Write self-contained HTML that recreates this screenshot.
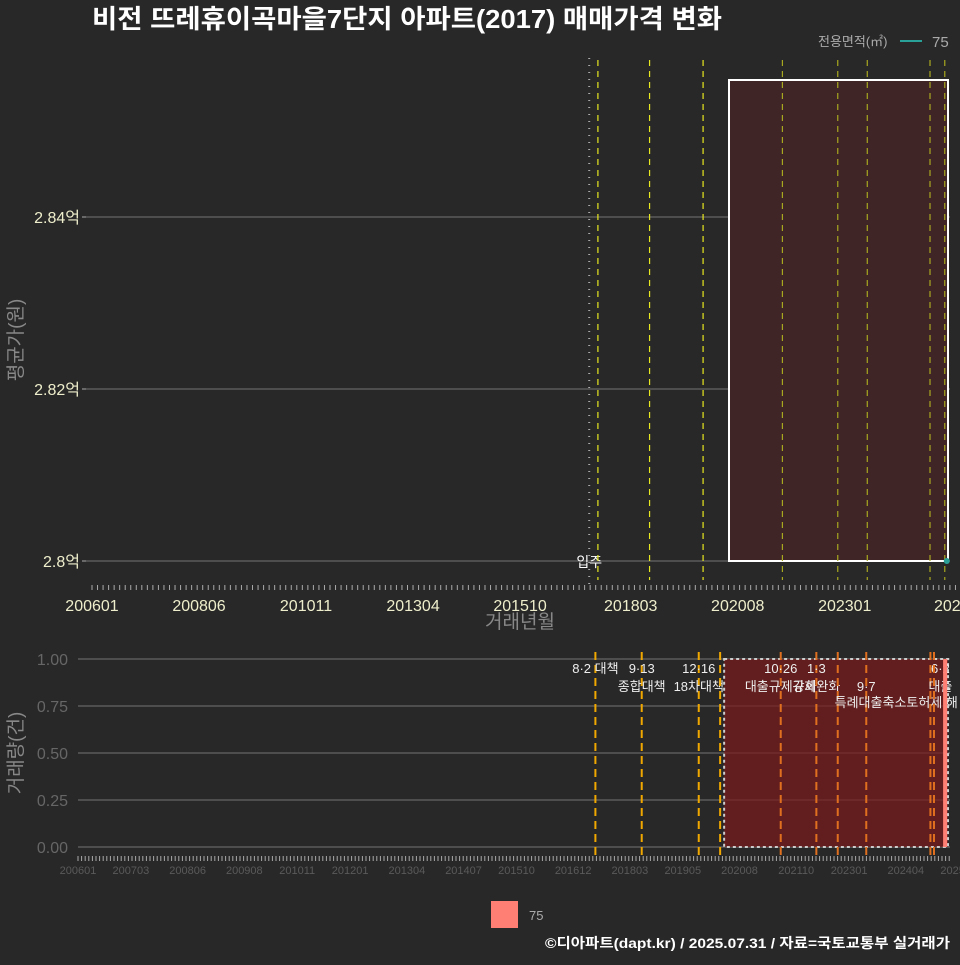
<!DOCTYPE html>
<html><head><meta charset="utf-8"><style>
body{margin:0;background:#282828;}
svg text{font-family:"Liberation Sans","Noto Sans CJK KR",sans-serif;}
</style></head><body>
<svg width="960" height="960" xmlns="http://www.w3.org/2000/svg">
<rect width="960" height="960" fill="#282828"/>
<text x="92" y="28" font-size="26" font-weight="bold" fill="#ffffff" textLength="630" lengthAdjust="spacingAndGlyphs">비전 뜨레휴이곡마을7단지 아파트(2017) 매매가격 변화</text>
<text x="818" y="46" font-size="13" fill="#aaaaaa">전용면적(㎡)</text>
<line x1="900" y1="41" x2="922" y2="41" stroke="#2aa198" stroke-width="2"/>
<text x="932" y="47" font-size="15" fill="#aaaaaa">75</text>
<g id="top"></g>
<g id="bot"></g>
<text transform="translate(22,340) rotate(-90)" text-anchor="middle" font-size="19" fill="#888">평균가(원)</text>
<text x="520" y="628" text-anchor="middle" font-size="19" fill="#888">거래년월</text>
<text transform="translate(22,753) rotate(-90)" text-anchor="middle" font-size="19" fill="#888">거래량(건)</text>
<rect x="491" y="901" width="27" height="27" fill="#ff7f74"/>
<text x="529" y="920" font-size="13" fill="#aaa">75</text>
<text x="950" y="948" text-anchor="end" font-size="14" font-weight="bold" fill="#fff" textLength="405" lengthAdjust="spacingAndGlyphs">©디아파트(dapt.kr) / 2025.07.31 / 자료=국토교통부 실거래가</text>
</svg>
<script>
const priceTicks=[2.80,2.82,2.84];
const priceTickLabels=["2.8억","2.82억","2.84억"];
const topXLabels=["200601","200806","201011","201304","201510","201803","202008","202301","2025"];
const topXMonths=[0,29,58,87,116,146,175,204,233];
const botXLabels=["200601","200703","200806","200908","201011","201201","201304","201407","201510","201612","201803","201905","202008","202110","202301","202404","202506"];
const botXMonths=[0,14,29,44,58,72,87,102,116,131,146,160,175,190,204,219,233];
const volTicks=[0,0.25,0.5,0.75,1.0];
const volTickLabels=["0.00","0.25","0.50","0.75","1.00"];
const topEventMonths=[139,153,167.5,189,204,212,229,233];
const eventMonths=[139,152,168,174,191,201,207,215,233,234];
const eventTop=["8·2 대책","9·13","12·16","","10·26","1·3","","","6·2",""];
const eventBottom=["","종합대책","18차대책","","대출규제강화","규제완화","","9·7","대출",""];
const eventThird=["","","","","","","","특례대출축소토허제 해","",""];
const priceMonths=[233];
const priceValues=[2.80];
const volMonths=[236];
const volValues=[1];
const moveInMonth=138;
const NS="http://www.w3.org/2000/svg";
function mk(p,tag,a,name,txt){const e=document.createElementNS(NS,tag);for(const k in a)e.setAttribute(k,a[k]);


if(txt!==undefined)e.textContent=txt;p.appendChild(e);return e;}
const tx=m=>85+m*3.69, ty=v=>561-(v-2.80)*8600;
const bx=m=>100+m*3.564, by=v=>847-v*188;
const T=document.getElementById('top'),B=document.getElementById('bot');
priceTicks.forEach((v,i)=>{mk(T,'line',{x1:86,x2:950,y1:ty(v),y2:ty(v),stroke:'#666','stroke-width':1.3},'grid-line');
mk(T,'line',{x1:82,x2:86,y1:ty(v),y2:ty(v),stroke:'#aaa'},'y-tick');
mk(T,'text',{x:80,y:ty(v)+6,'text-anchor':'end','font-size':16,fill:'#eeeecc'},'y-tick-label',priceTickLabels[i]);});
mk(T,'rect',{x:729,y:80,width:219,height:481,fill:'#3f2526',stroke:'#fff','stroke-width':2},'period-rect');
mk(T,'line',{x1:tx(moveInMonth)-5,x2:tx(moveInMonth)-5,y1:58,y2:585,stroke:'#aaa','stroke-width':2,'stroke-dasharray':'1,6'},'move-in-line');
mk(T,'text',{x:tx(moveInMonth)-5,y:567,'text-anchor':'middle','font-size':14,fill:'#fff'},'move-in-label','입주');
topEventMonths.forEach(m=>{mk(T,'line',{x1:tx(m),x2:tx(m),y1:60,y2:580,stroke:m>175?'#a8a820':'#e8e820','stroke-width':1.2,'stroke-dasharray':'6,5'},'event-line');});
for(let m=0;m<=236;m+=1.5){mk(T,'line',{x1:tx(m)+7,x2:tx(m)+7,y1:585,y2:590,stroke:'#aaa','stroke-width':1},'x-minor-tick');}
topXLabels.forEach((l,i)=>mk(T,'text',{x:tx(topXMonths[i])+7,y:611,'text-anchor':'middle','font-size':16,fill:'#eeeecc'},'x-tick-label',l));
priceMonths.forEach((m,i)=>mk(T,'circle',{cx:tx(m)+2,cy:ty(priceValues[i]),r:3,fill:'#2aa198'},'price-point'));
volTicks.forEach((v,i)=>{mk(B,'line',{x1:78,x2:950,y1:by(v),y2:by(v),stroke:'#666','stroke-width':1.3},'grid-line');
mk(B,'text',{x:68,y:by(v)+6,'text-anchor':'end','font-size':16,fill:'#666'},'y-tick-label',volTickLabels[i]);});
mk(B,'rect',{x:bx(174)+4,y:by(1),width:948-bx(174)-4,height:by(0)-by(1),fill:'#7a1a1a','fill-opacity':0.7,stroke:'#ccc','stroke-width':2,'stroke-dasharray':'3,3'},'period-rect');
eventMonths.forEach((m,i)=>{const x=bx(m);mk(B,'line',{x1:x,x2:x,y1:652,y2:858,stroke:m>175?'#e07020':'#f0a800','stroke-width':2,'stroke-dasharray':'8,5'},'event-line');
const off=(m>=233)?10:0;
if(eventTop[i])mk(B,'text',{x:x+off,y:673,'text-anchor':'middle','font-size':13,fill:'#eee'},'event-label',eventTop[i]);
if(eventBottom[i])mk(B,'text',{x:x+off,y:691,'text-anchor':'middle','font-size':13,fill:'#eee'},'event-label',eventBottom[i]);
if(eventThird[i])mk(B,'text',{x:x+30,y:707,'text-anchor':'middle','font-size':13,fill:'#eee'},'event-label',eventThird[i]);});
volMonths.forEach((m,i)=>mk(B,'rect',{x:bx(m)+2,y:by(volValues[i]),width:4,height:by(0)-by(volValues[i]),fill:'#ff7f74'},'volume-bar'));
for(let x=78;x<=950;x+=3.6){mk(B,'line',{x1:x,x2:x,y1:856,y2:861,stroke:'#aaa','stroke-width':1},'x-minor-tick');}
botXLabels.forEach((l,i)=>mk(B,'text',{x:78+botXMonths[i]*3.78,y:874,'text-anchor':'middle','font-size':11,fill:'#5a5a5a'},'x-tick-label',l));
</script>
</body></html>
